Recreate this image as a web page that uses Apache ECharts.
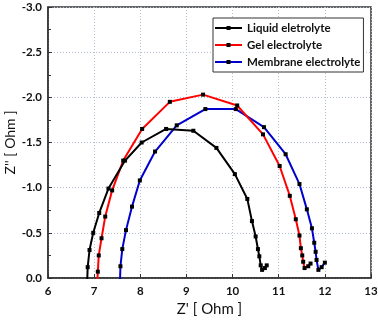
<!DOCTYPE html>
<html>
<head>
<meta charset="utf-8">
<script src="https://cdn.jsdelivr.net/npm/echarts@6/dist/echarts.min.js"></script>
<style>
  html, body { margin: 0; padding: 0; background: #fff; }
  #chart { width: 378px; height: 326px; }
</style>
</head>
<body>
<div id="chart"></div>
<script>
var seriesNames = ['Liquid eletrolyte', 'Gel electrolyte', 'Membrane electrolyte'];
var seriesColors = ['#000000', '#ff0000', '#0000cd'];

var liquidRe = [6.85, 6.86, 6.90, 6.98, 7.11, 7.31, 7.67, 8.03, 8.56, 9.15, 9.65, 10.05, 10.32, 10.42, 10.50, 10.55, 10.58, 10.61, 10.64, 10.70, 10.74];
var liquidIm = [0.03, -0.12, -0.31, -0.50, -0.72, -0.99, -1.30, -1.50, -1.65, -1.63, -1.44, -1.15, -0.875, -0.63, -0.46, -0.32, -0.24, -0.14, -0.09, -0.11, -0.14];

var gelRe = [7.07, 7.08, 7.10, 7.16, 7.24, 7.39, 7.63, 8.04, 8.64, 9.36, 10.10, 10.66, 11.02, 11.24, 11.37, 11.45, 11.48, 11.51, 11.53, 11.56, 11.64, 11.69];
var gelIm = [0.03, -0.07, -0.25, -0.44, -0.68, -0.97, -1.30, -1.65, -1.95, -2.03, -1.91, -1.59, -1.24, -0.91, -0.65, -0.47, -0.33, -0.25, -0.18, -0.11, -0.13, -0.16];

var membraneRe = [7.56, 7.57, 7.61, 7.69, 7.82, 7.99, 8.32, 8.79, 9.41, 10.07, 10.68, 11.15, 11.45, 11.61, 11.72, 11.77, 11.80, 11.82, 11.86, 11.93, 12.00];
var membraneIm = [0.03, -0.13, -0.32, -0.53, -0.79, -1.08, -1.40, -1.69, -1.87, -1.87, -1.67, -1.37, -1.04, -0.76, -0.55, -0.39, -0.29, -0.20, -0.09, -0.12, -0.17];

var xTicks = { min: 6, max: 13, step: 1 };
var yTicks = { min: -3, max: 0, step: 0.5 };

function pairs(xs, ys) {
    return xs.map(function(x, i) { return [x, ys[i]]; });
}

var allData = [pairs(liquidRe, liquidIm), pairs(gelRe, gelIm), pairs(membraneRe, membraneIm)];

var font = 'Lato, sans-serif';
var gridLine = { show: true, lineStyle: { color: '#b4c0d2', type: [1, 2], width: 1 } };

var chart = echarts.init(document.getElementById('chart'), null, { renderer: 'canvas' });
chart.setOption({
    animation: false,
    grid: {
        left: 48, right: 7, top: 7, bottom: 48,
        outerBoundsMode: 'none',
        show: true, borderColor: '#333', borderWidth: 1.5, backgroundColor: 'transparent'
    },
    legend: {
        orient: 'vertical',
        left: 213, top: 18,
        padding: [3, 3, 3, 1],
        itemWidth: 27, itemHeight: 5, itemGap: 3,
        backgroundColor: '#fff',
        borderColor: '#333', borderWidth: 1,
        textStyle: { fontFamily: font, fontWeight: 'bold', fontSize: 11.5, lineHeight: 14, color: '#111' },
        data: seriesNames
    },
    xAxis: {
        type: 'value',
        min: xTicks.min, max: xTicks.max, interval: xTicks.step,
        name: "Z' [ Ohm ]", nameLocation: 'middle', nameGap: 24,
        nameMoveOverlap: false,
        nameTextStyle: { fontFamily: font, fontSize: 15, color: '#111' },
        axisLine: { show: true, onZero: false, lineStyle: { color: '#333', width: 1.5 } },
        axisTick: { show: true, inside: true, length: 4, lineStyle: { color: '#333' } },
        axisLabel: { fontFamily: font, fontWeight: 'bold', fontSize: 11.5, color: '#111', margin: 7 },
        splitLine: gridLine
    },
    yAxis: {
        type: 'value',
        inverse: true,
        min: yTicks.min, max: yTicks.max, interval: yTicks.step,
        name: "Z'' [ Ohm ]", nameLocation: 'middle', nameGap: 31,
        nameMoveOverlap: false,
        nameTextStyle: { fontFamily: font, fontSize: 14, color: '#111' },
        axisLine: { show: true, onZero: false, lineStyle: { color: '#333', width: 1.5 } },
        axisTick: { show: true, inside: true, length: 4, lineStyle: { color: '#333' } },
        minorTick: { show: true, splitNumber: 2, length: 3, lineStyle: { color: '#333' } },
        axisLabel: {
            fontFamily: font, fontWeight: 'bold', fontSize: 11.5, color: '#111', margin: 6,
            formatter: function(v) { return v.toFixed(1); }
        },
        splitLine: gridLine
    },
    series: seriesNames.map(function(name, i) {
        return {
            name: name,
            type: 'line',
            data: allData[i],
            clip: true,
            symbol: 'rect',
            symbolSize: 4,
            showAllSymbol: true,
            itemStyle: { color: '#000' },
            lineStyle: { color: seriesColors[i], width: 2 },
            z: 3 - i
        };
    })
});
</script>
</body>
</html>
